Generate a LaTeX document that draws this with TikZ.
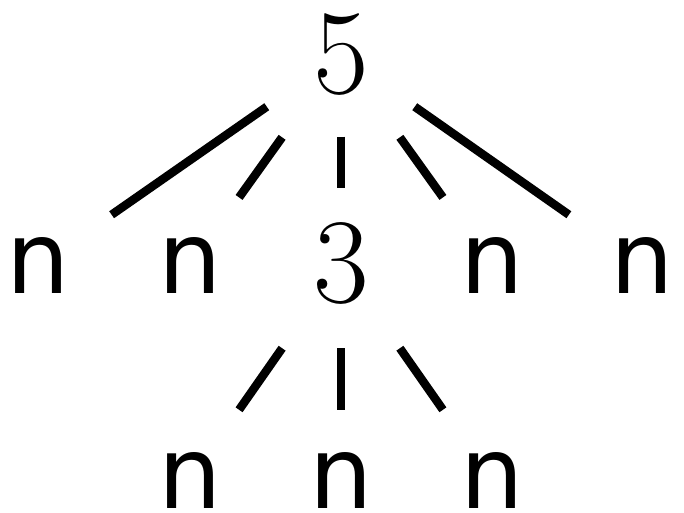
\documentclass[tikz,border=0pt]{standalone}
\usepackage{fontspec}
\newfontfamily\nfont{DejaVu Sans}
\usetikzlibrary{calc}
\tikzset{
  lab/.style={inner sep=0pt, outer sep=0pt, anchor=base},
  nlab/.style={lab, font=\nfont\fontsize{100}{100}\selectfont},
  dlab/.style={lab, font=\fontsize{121}{121}\selectfont},
  edge/.style={line width=8.5pt}
}
\begin{document}
\begin{tikzpicture}[x=1pt,y=1pt]
\useasboundingbox (0,0) rectangle (684,513);
\node[dlab] (r) at (341,419) {5};
\node[nlab] (a) at (38,219) {n};
\node[nlab] (b) at (190,219) {n};
\node[dlab] (c) at (341,210) {3};
\node[nlab] (d) at (492,219) {n};
\node[nlab] (e) at (642,219) {n};
\node[nlab] (f) at (190,5) {n};
\node[nlab] (g) at (341,5) {n};
\node[nlab] (h) at (492,5) {n};
\draw[edge] ($(r.center)!0.245!(a.center)$) -- ($(r.center)!0.757!(a.center)$);
\draw[edge] ($(r.center)!0.39!(b.center)$) -- ($(r.center)!0.675!(b.center)$);
\draw[edge] ($(r.center)!0.39!(c.center)$) -- ($(r.center)!0.635!(c.center)$);
\draw[edge] ($(r.center)!0.39!(d.center)$) -- ($(r.center)!0.675!(d.center)$);
\draw[edge] ($(r.center)!0.245!(e.center)$) -- ($(r.center)!0.757!(e.center)$);
\draw[edge] ($(c.center)!0.39!(f.center)$) -- ($(c.center)!0.675!(f.center)$);
\draw[edge] ($(c.center)!0.39!(g.center)$) -- ($(c.center)!0.675!(g.center)$);
\draw[edge] ($(c.center)!0.39!(h.center)$) -- ($(c.center)!0.675!(h.center)$);
\end{tikzpicture}
\end{document}
